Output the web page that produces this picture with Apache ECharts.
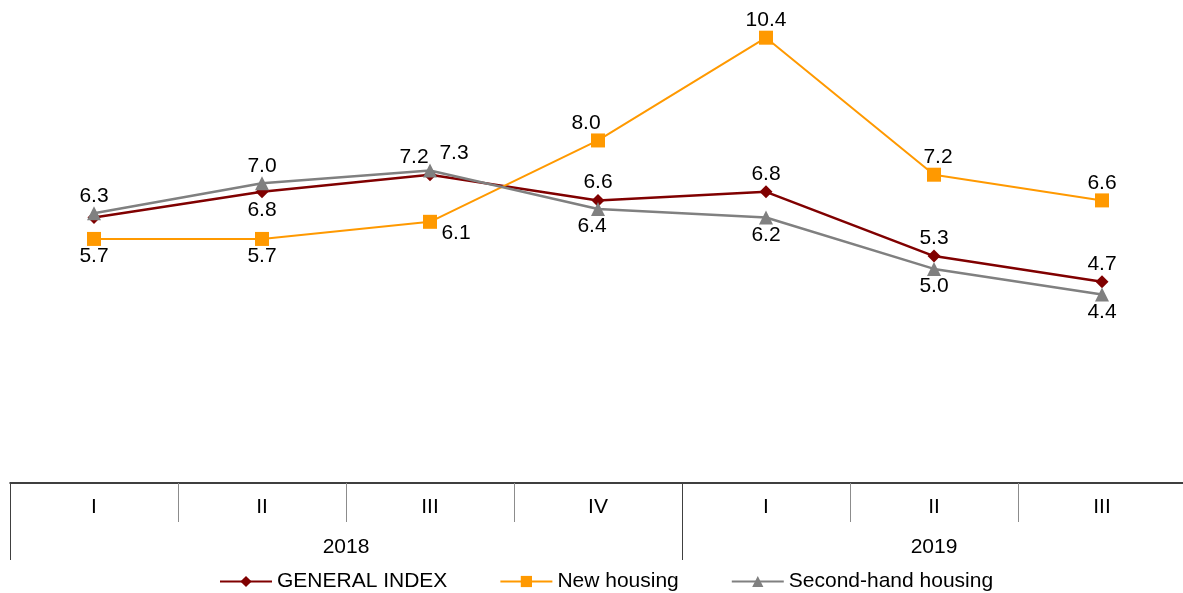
<!DOCTYPE html>
<html>
<head>
<meta charset="utf-8">
<script src="https://cdn.jsdelivr.net/npm/echarts@6/dist/echarts.min.js"></script>
<style>
  html, body { margin: 0; padding: 0; background: #fff; }
  #main { width: 1183px; height: 593px; }
</style>
</head>
<body>
<div id="main"></div>
<script>
// quarters and years (two-level category axis)
var quarters = ['I', 'II', 'III', 'IV', 'I', 'II', 'III'];
var years = ['2018', '2019'];
var yearSpans = [4, 3];

// series values
var generalIndex = [6.2, 6.8, 7.2, 6.6, 6.8, 5.3, 4.7];
var newHousing = [5.7, 5.7, 6.1, 8.0, 10.4, 7.2, 6.6];
var secondHand = [6.3, 7.0, 7.3, 6.4, 6.2, 5.0, 4.4];

// year boundaries and centres on a 0..7 scale
var yearStarts = [], yearCentres = [];
var acc = 0;
for (var i = 0; i < yearSpans.length; i++) {
    yearStarts.push(acc);
    yearCentres.push(acc + yearSpans[i] / 2);
    acc += yearSpans[i];
}

var font = 'Liberation Sans, Arial, sans-serif';
var fs = 21;

// label placement per point
function labels(values, positions, offsets) {
    return values.map(function (v, i) {
        var p = positions[i];
        if (p === 'none') {
            return { value: v, label: { show: false } };
        }
        return {
            value: v,
            label: { position: p, offset: offsets ? offsets[i] : [0, 0] }
        };
    });
}

var myChart = echarts.init(document.getElementById('main'));
option = {
    textStyle: { fontFamily: font },
    grid: { left: 10, width: 1176, top: 12, bottom: 110, outerBoundsMode: 'none', containLabel: false },
    legend: {
        left: 214,
        bottom: -4,
        itemWidth: 52,
        itemHeight: 14,
        itemGap: 52,
        textStyle: { fontSize: fs, color: '#000', fontFamily: font },
        data: ['GENERAL INDEX', 'New housing', 'Second-hand housing']
    },
    xAxis: [
        {
            type: 'category',
            data: quarters,
            boundaryGap: true,
            axisLine: { lineStyle: { color: '#000', width: 1.5 } },
            axisTick: { show: true, interval: 0, length: 39, lineStyle: { color: '#8c8c8c' } },
            axisLabel: { margin: 14, fontSize: fs, color: '#000', fontFamily: font, interval: 0 }
        },
        {
            type: 'value',
            min: 0,
            max: quarters.length,
            position: 'bottom',
            axisLine: { show: false },
            splitLine: { show: false },
            axisTick: {
                show: true,
                length: 77,
                customValues: yearStarts,
                lineStyle: { color: '#404040' }
            },
            axisLabel: {
                margin: 54,
                fontSize: fs,
                color: '#000',
                fontFamily: font,
                customValues: yearCentres,
                formatter: function (v) {
                    var idx = yearCentres.indexOf(v);
                    return idx >= 0 ? years[idx] : '';
                }
            }
        }
    ],
    yAxis: { type: 'value', min: 0, max: 11, show: false },
    series: [
        {
            name: 'GENERAL INDEX',
            type: 'line',
            color: '#800000',
            symbol: 'diamond',
            symbolSize: 13,
            lineStyle: { width: 2.5 },
            label: {
                show: true, fontSize: fs, color: '#000', distance: 1,
                formatter: function (p) { return p.value.toFixed(1); }
            },
            data: labels(generalIndex,
                ['none', 'bottom', 'top', 'top', 'top', 'top', 'top'],
                [[0, 0], [0, 0], [-16, 0], [0, 0], [0, 0], [0, 0], [0, 0]])
        },
        {
            name: 'New housing',
            type: 'line',
            color: '#ff9900',
            symbol: 'rect',
            symbolSize: 14,
            lineStyle: { width: 2 },
            label: {
                show: true, fontSize: fs, color: '#000', distance: 0,
                formatter: function (p) { return p.value.toFixed(1); }
            },
            data: labels(newHousing,
                ['bottom', 'bottom', 'bottom', 'top', 'top', 'top', 'top'],
                [[0, 0], [0, 0], [26, -6], [-12, 0], [0, 0], [4, 0], [0, 0]])
        },
        {
            name: 'Second-hand housing',
            type: 'line',
            color: '#808080',
            symbol: 'triangle',
            symbolSize: 14,
            lineStyle: { width: 2.5 },
            label: {
                show: true, fontSize: fs, color: '#000', distance: 0,
                formatter: function (p) { return p.value.toFixed(1); }
            },
            data: labels(secondHand,
                ['top', 'top', 'top', 'bottom', 'bottom', 'bottom', 'bottom'],
                [[0, 0], [0, 0], [24, 0], [-6, 0], [0, 0], [0, 0], [0, 0]])
        }
    ]
};
myChart.setOption(option);
</script>
</body>
</html>
